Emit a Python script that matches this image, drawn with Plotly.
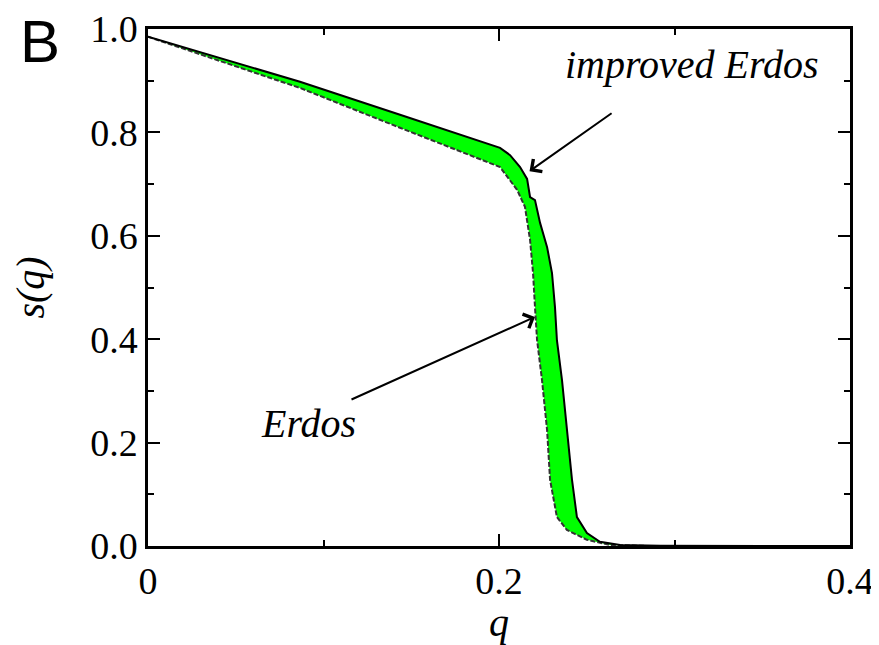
import plotly.graph_objects as go

# Data
q_improved = [0.0, 0.0866, 0.1436, 0.2006, 0.2063, 0.212, 0.216, 0.2177, 0.2205, 0.2234,
              0.2274, 0.2302, 0.2319, 0.2330, 0.2359, 0.2387, 0.2416, 0.2444, 0.2501,
              0.2575, 0.269, 0.292, 0.33, 0.4]
s_improved = [0.985, 0.898, 0.834, 0.770, 0.756, 0.733, 0.710, 0.675, 0.669, 0.625,
              0.578, 0.528, 0.462, 0.398, 0.321, 0.224, 0.128, 0.056, 0.025,
              0.008, 0.002, 0.0005, 0.0, 0.0]

q_erdos = [0.0, 0.0866, 0.1436, 0.2006, 0.2103, 0.2148, 0.2177, 0.2194, 0.2205, 0.2217,
           0.2245, 0.2274, 0.2291, 0.2330, 0.2387, 0.2501, 0.2632, 0.286, 0.33, 0.4]
s_erdos = [0.985, 0.886, 0.809, 0.733, 0.689, 0.656, 0.592, 0.528, 0.462, 0.398,
           0.321, 0.224, 0.128, 0.056, 0.031, 0.012, 0.002, 0.0, 0.0, 0.0]

x_ticks = [0, 0.2, 0.4]
x_ticklabels = ["0", "0.2", "0.4"]
y_ticks = [0, 0.2, 0.4, 0.6, 0.8, 1.0]
y_ticklabels = ["0.0", "0.2", "0.4", "0.6", "0.8", "1.0"]

SERIF = "'Liberation Serif', 'DejaVu Serif', serif"

# the page body adds an 8px offset; size the figure so it ends at the window edge
FIG_W, FIG_H = 871, 637
M_L, M_T = 140, 21
PLOT_W, PLOT_H = 702, 517
M_R = FIG_W - M_L - PLOT_W
M_B = FIG_H - M_T - PLOT_H

fig = go.Figure()

# green band between the two curves
fig.add_trace(go.Scatter(
    x=q_improved + q_erdos[::-1],
    y=s_improved + s_erdos[::-1],
    fill="toself", fillcolor="#00ff00", mode="lines",
    line=dict(width=0), hoverinfo="skip", showlegend=False))

fig.add_trace(go.Scatter(
    x=q_erdos, y=s_erdos, mode="lines",
    line=dict(color="#333333", width=2, dash="5px,2px"),
    showlegend=False, name="Erdos"))

fig.add_trace(go.Scatter(
    x=q_improved, y=s_improved, mode="lines",
    line=dict(color="black", width=2),
    showlegend=False, name="improved Erdos"))

axis_common = dict(
    showline=True, linecolor="black", linewidth=2.5, mirror="ticks",
    ticks="inside", ticklen=12, tickwidth=2, tickcolor="black",
    showgrid=False, zeroline=False, automargin=False,
    tickfont=dict(family=SERIF, size=38, color="black"),
)

fig.update_xaxes(
    range=[0, 0.4], tickvals=x_ticks, ticktext=x_ticklabels,
    minor=dict(dtick=0.1, ticks="inside", ticklen=6, tickwidth=2, tickcolor="black", showgrid=False),
    title=dict(text="<i>q</i>", font=dict(family=SERIF, size=40, color="black"), standoff=0),
    **axis_common)
fig.update_yaxes(
    range=[0, 1.0], tickvals=y_ticks, ticktext=y_ticklabels,
    minor=dict(dtick=0.1, ticks="inside", ticklen=6, tickwidth=2, tickcolor="black", showgrid=False),
    title=dict(text="<i>s(q)</i>", font=dict(family=SERIF, size=40, color="black"), standoff=42),
    **axis_common)

fig.add_annotation(
    x=0.2174, y=0.725, xref="x", yref="y",
    ax=0.265, ay=0.839, axref="x", ayref="y",
    text="", showarrow=True, arrowhead=4, arrowsize=1.5, arrowwidth=2, arrowcolor="black")
fig.add_annotation(
    x=0.2205, y=0.443, xref="x", yref="y",
    ax=0.1151, ay=0.282, axref="x", ayref="y",
    text="", showarrow=True, arrowhead=4, arrowsize=1.5, arrowwidth=2, arrowcolor="black")

fig.add_annotation(
    x=0.3097, y=0.932, xref="x", yref="y", text="<i>improved Erdos</i>",
    showarrow=False, font=dict(family=SERIF, size=40, color="black"))
fig.add_annotation(
    x=0.0917, y=0.237, xref="x", yref="y", text="<i>Erdos</i>",
    showarrow=False, font=dict(family=SERIF, size=40, color="black"))

fig.add_annotation(
    x=(31.5 - M_L) / PLOT_W, y=(M_T + PLOT_H) / PLOT_H,
    xref="paper", yref="paper", text="B", showarrow=False,
    xanchor="center", yanchor="top", yshift=2,
    font=dict(family="'Liberation Sans', Arial, sans-serif", size=60, color="black"))

fig.update_layout(
    width=FIG_W, height=FIG_H,
    margin=dict(l=M_L, r=M_R, t=M_T, b=M_B, autoexpand=False),
    paper_bgcolor="white", plot_bgcolor="white",
)

fig.write_html("out.html")
